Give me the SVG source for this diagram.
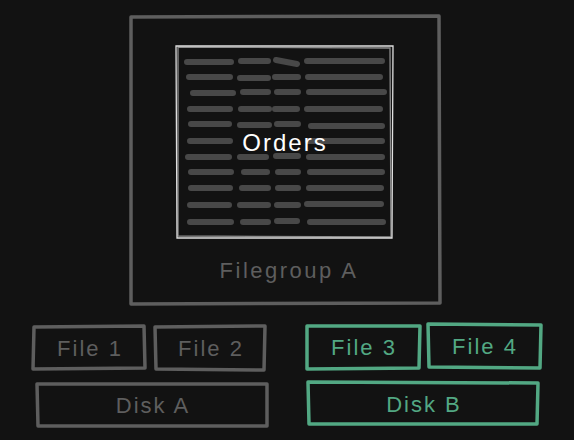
<svg xmlns="http://www.w3.org/2000/svg" width="574" height="440" viewBox="0 0 574 440">
<style>
.g{fill:none;stroke:#5e5e5e;stroke-width:3.5;stroke-linejoin:round;stroke-linecap:round}
.gr{fill:none;stroke:#52a883;stroke-width:3.5;stroke-linejoin:round;stroke-linecap:round}
.w{fill:none;stroke:#e0e0e0;stroke-width:1.3}
.t{font-family:"Liberation Sans",Arial,sans-serif;font-size:22px;letter-spacing:2px;text-anchor:middle;dominant-baseline:central}
.d{stroke:#484848;stroke-width:6;stroke-linecap:round}
</style>
<rect width="574" height="440" fill="#121212"/>
<g id="filegroup-a">
<path class="g" d="M131 17 L439 16 L440 303 L131 304 Z"/>
<text class="t" x="289" y="270" fill="#5e5e5e" style="letter-spacing:2.5px">Filegroup A</text>
</g>
<g id="orders">
<path class="w" d="M176 46 L393 46 L392 238 L177 238 Z"/>
<path class="w" d="M178 47 L390 48 L391 237 L178 236 Z" opacity="0.6"/>
<g id="table-rows">
<path class="d" d="M187 62 H231 M241 61 H268 M276 60 L297 64 M307 61 H382"/>
<path class="d" d="M189 77 H230 M240 78 H268 M275 77 H298 M308 77 H380"/>
<path class="d" d="M193 93 H233 M243 92 H268 M277 92 H298 M309 92 H384"/>
<path class="d" d="M190 109 H230 M241 109 H269 M275 109 H297 M307 109 H380"/>
<path class="d" d="M191 124 H229 M240 125 H269 M277 124 H298 M311 126 H382"/>
<path class="d" d="M190 141 H230 M308 141 H382"/>
<path class="d" d="M188 157 H229 M240 157 H266 M276 156 H298 M309 157 H382"/>
<path class="d" d="M191 172 H231 M244 172 H267 M278 172 H298 M310 172 H382"/>
<path class="d" d="M191 188 H230 M242 188 H268 M278 188 H298 M309 188 H381"/>
<path class="d" d="M190 205 H229 M240 205 H268 M277 205 H298 M307 204 H381"/>
<path class="d" d="M190 222 H231 M243 222 H268 M277 221 H297 M310 222 H383"/>
</g>
<text class="t" x="285" y="142" fill="#ffffff" style="font-size:24px">Orders</text>
</g>
<g id="file-1">
<path class="g" d="M34 327 L144 326 L145 368 L33 369 Z"/>
<text class="t" x="90" y="348" fill="#5e5e5e">File 1</text>
</g>
<g id="file-2">
<path class="g" d="M155 327 L265 326 L264 370 L156 369 Z"/>
<text class="t" x="211" y="348" fill="#5e5e5e">File 2</text>
</g>
<g id="disk-a">
<path class="g" d="M37 384 L267 384 L267 426 L38 426 Z"/>
<text class="t" x="153" y="405" fill="#5e5e5e">Disk A</text>
</g>
<g id="file-3">
<path class="gr" d="M307 326 L420 326 L419 368 L307 369 Z"/>
<text class="t" x="364" y="347" fill="#52a883">File 3</text>
</g>
<g id="file-4">
<path class="gr" d="M428 324 L541 325 L540 368 L429 367 Z"/>
<text class="t" x="485" y="346" fill="#52a883">File 4</text>
</g>
<g id="disk-b">
<path class="gr" d="M308 382 L538 383 L537 424 L309 424 Z"/>
<text class="t" x="424" y="404" fill="#52a883">Disk B</text>
</g>
<g id="connectors"/>
</svg>
